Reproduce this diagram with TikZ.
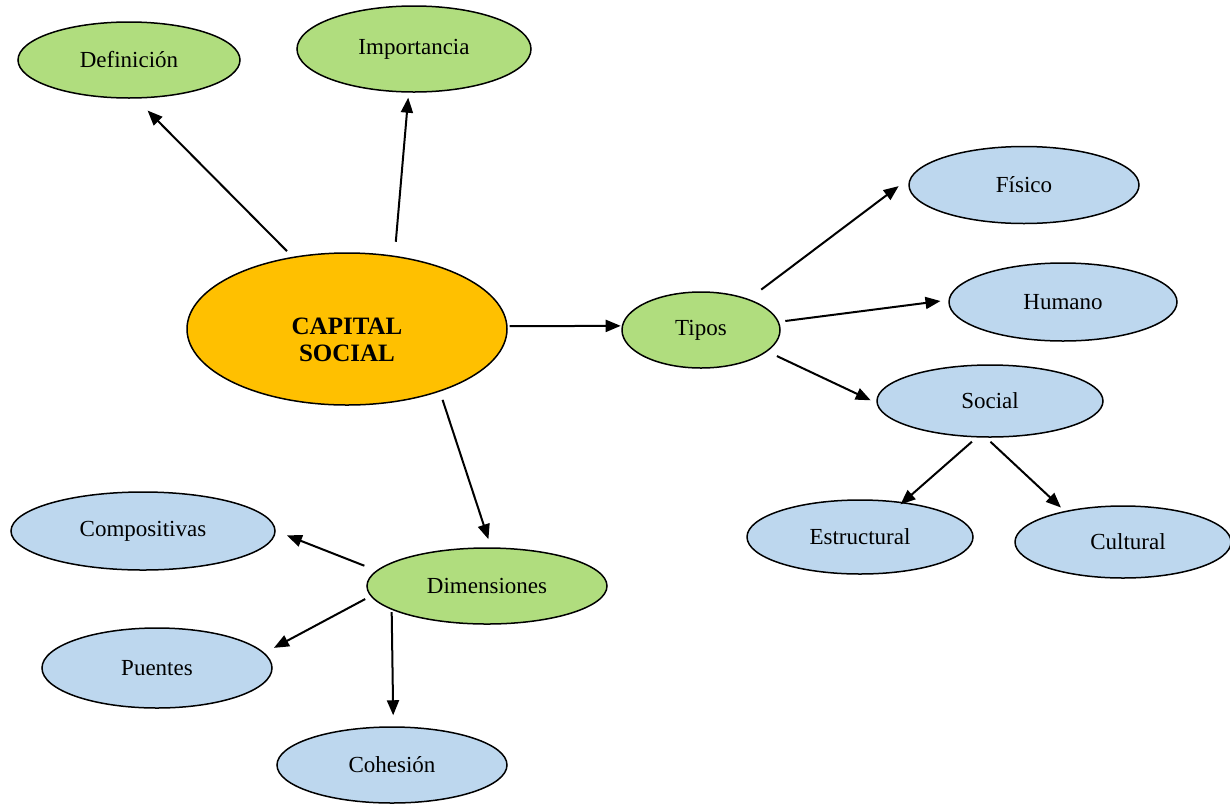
\documentclass[tikz,border=0pt]{standalone}
\usepackage{fontspec}
\setmainfont{Liberation Serif}
\usetikzlibrary{arrows.meta,shapes.geometric}
\definecolor{leaf}{HTML}{B0DD7E}
\definecolor{sky}{HTML}{BDD7EE}
\definecolor{amber}{HTML}{FFC000}
\begin{document}
\begin{tikzpicture}[x=1pt,y=-1pt,
  oval/.style={ellipse, draw=black, line width=1.5pt, inner sep=0pt,
    font=\fontsize{23}{27}\selectfont},
  greenoval/.style={oval, fill=leaf},
  blueoval/.style={oval, fill=sky},
  core/.style={oval, fill=amber,
    font=\fontsize{25}{29}\selectfont\bfseries},
  sz/.style 2 args={minimum width=#1pt, minimum height=#2pt},
  link/.style={line width=2pt, -{Triangle[length=15pt,width=12pt]}}]
\useasboundingbox (0,0) rectangle (1230,804);

% central concept, its two lines set a little below the middle
\node[core, sz={320}{152}] (cs) at (347,329)
  {\raisebox{-13pt}[\height][\depth]{\begin{tabular}{@{}c@{}}CAPITAL\\[-2pt]SOCIAL\end{tabular}}};

% first level
\node[greenoval, sz={222}{76}] (def) at (129,60) {Definición};
\node[greenoval, sz={234}{86}] (imp) at (414,49) {Importancia};
\node[greenoval, sz={158}{76}] (tip) at (701,330) {Tipos};
\node[greenoval, sz={240}{76}] (dim) at (487,586) {Dimensiones};

% kinds
\node[blueoval, sz={230}{77}] (fis) at (1024,185) {Físico};
\node[blueoval, sz={228}{78}] (hum) at (1063,302) {Humano};
\node[blueoval, sz={226}{72}] (soc) at (990,401) {Social};
\node[blueoval, sz={226}{74}] (est) at (860,537) {Estructural};
\node[blueoval, sz={216}{72}] (cul) at (1123,542) {\hspace{10pt}Cultural};

% dimensions
\node[blueoval, sz={264}{78}] (com) at (143,531) {Compositivas};
\node[blueoval, sz={230}{80}] (pue) at (157,668) {Puentes};
\node[blueoval, sz={230}{76}] (coh) at (392,765) {Cohesión};

% connectors
\draw[link, shorten <=8pt, shorten >=16.7pt] (cs.127.9) -- (def.-80.4);
\draw[link, shorten <=14pt, shorten >=5pt] (cs.57.5) -- (imp.-97.4);
\draw[link, shorten <=2pt, shorten >=1pt] (cs.1.1) -- (tip.177.1);
\draw[link, shorten <=8.6pt, shorten >=8.5pt] (cs.-34.9) -- (dim.84.3);
\draw[link, shorten <=15.6pt, shorten >=15pt] (tip.33.4) -- (fis.176.5);
\draw[link, shorten <=6.4pt, shorten >=8pt] (tip.6.9) -- (hum.179.5);
\draw[link, shorten <=10.6pt, shorten >=6.3pt] (tip.-18.1) -- (soc.181.9);
\draw[link, shorten <=6.4pt, shorten >=-3.6pt] (soc.-110.2) -- (est.39.5);
\draw[link, shorten <=5.9pt, shorten >=5.1pt] (soc.-96.8) -- (cul.152);
\draw[link, shorten <=12.9pt, shorten >=12pt] (dim.172.2) -- (com.0.65);
\draw[link, shorten <=6pt, shorten >=10.7pt] (dim.185) -- (pue.8);
\draw[link, shorten <=2.4pt, shorten >=11pt] (dim.194.1) -- (coh.88.5);
\end{tikzpicture}
\end{document}
